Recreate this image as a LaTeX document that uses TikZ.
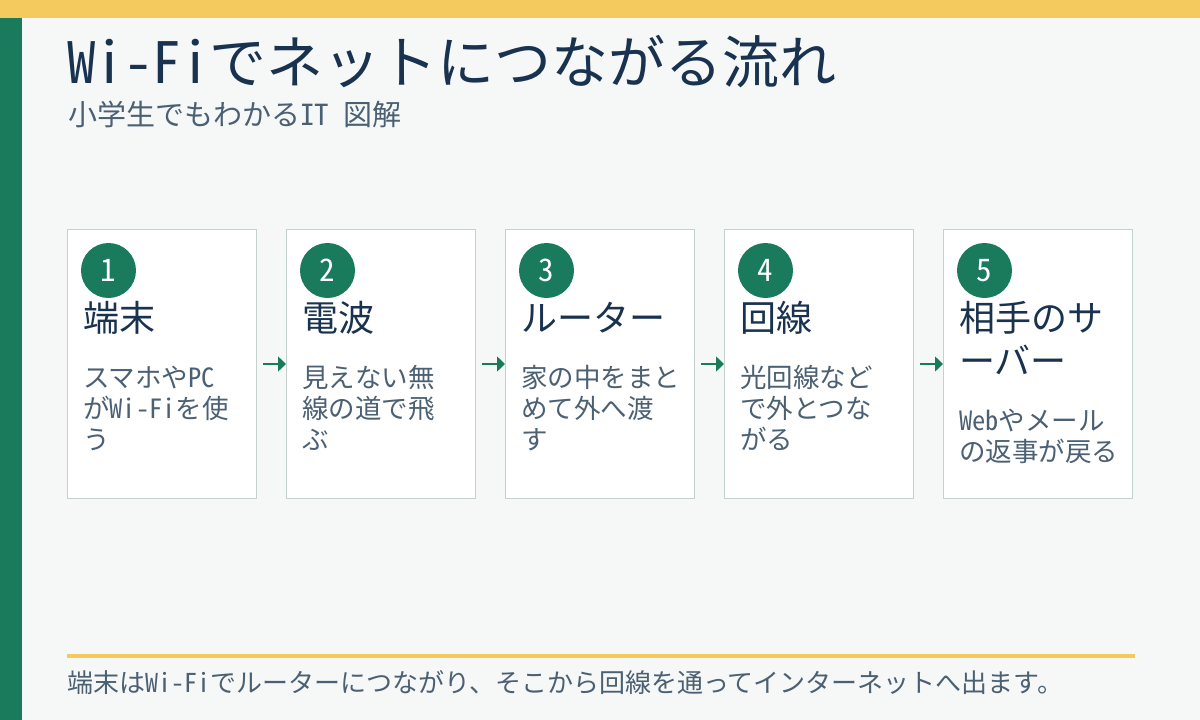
\documentclass[tikz,border=0pt]{standalone}
\usepackage{fontspec}
\setmainfont{Noto Sans CJK JP}[RawFeature=+hwid]
\usetikzlibrary{arrows.meta,positioning}

\begin{document}
\begin{tikzpicture}[x=1pt,y=-1pt,
	card/.style={draw=cardline,fill=white,line width=1pt,minimum width=189pt,minimum height=269pt,anchor=north west,inner sep=0pt},
	badge/.style={circle,fill=leaf,minimum size=55pt,inner sep=0pt,text=white,font=\fontsize{31}{31}\selectfont},
	head/.style={anchor=base west,inner sep=0pt,align=left,text=ink,font=\fontsize{36}{43}\selectfont},
	desc/.style={anchor=base west,inner sep=0pt,align=left,text=slate,font=\fontsize{26.5}{31}\selectfont},
	link/.style={draw=leaf,line width=1.5pt,-{Triangle[length=8pt,width=15pt]}}]
	\definecolor{paper}{HTML}{F6F8F7}
	\definecolor{sun}{HTML}{F4C95D}
	\definecolor{leaf}{HTML}{1A7A5C}
	\definecolor{ink}{HTML}{18324F}
	\definecolor{slate}{HTML}{4B6072}
	\definecolor{cardline}{HTML}{C3D3CC}
	\useasboundingbox (0,0) rectangle (1200,720);
	%% Frame ------
	\fill[paper] (0,0) rectangle (1200,720);
	\fill[sun] (0,0) rectangle (1200,18);
	\fill[leaf] (0,18) rectangle (22,720);
	\node[anchor=base west,inner sep=0pt,text=ink,font=\fontsize{57}{57}\selectfont] (title) at (67,83) {Wi-Fiでネットにつながる流れ};
	\node[anchor=base west,inner sep=0pt,text=slate,font=\fontsize{29}{29}\selectfont] (subtitle) at (68,125) {小学生でもわかるIT 図解};
	%% Cards ------
	\node[card] (c1) at (67,229) {};
	\node[card] (c2) at (286,229) {};
	\node[card] (c3) at (505,229) {};
	\node[card] (c4) at (724,229) {};
	\node[card] (c5) at (943,229) {};
	\node[badge] (n1) at (108.5,270.5) {1};
	\node[badge] (n2) at (327.5,270.5) {2};
	\node[badge] (n3) at (546.5,270.5) {3};
	\node[badge] (n4) at (765.5,270.5) {4};
	\node[badge] (n5) at (984.5,270.5) {5};
	% base anchor sits on the last line
	\node[head] (h1) at (83,331) {端末};
	\node[head] (h2) at (302,331) {電波};
	\node[head] (h3) at (521,331) {ルーター};
	\node[head] (h4) at (740,331) {回線};
	\node[head] (h5) at (959,374) {相手のサ\\ーバー};
	\node[desc] (d1) at (83,449) {スマホやPC\\がWi-Fiを使\\う};
	\node[desc] (d2) at (302,449) {見えない無\\線の道で飛\\ぶ};
	\node[desc] (d3) at (521,449) {家の中をまと\\めて外へ渡\\す};
	\node[desc] (d4) at (740,449) {光回線など\\で外とつな\\がる};
	\node[desc] (d5) at (959,461) {Webやメール\\の返事が戻る};
	%% Arrows ---------
	\draw[link] ([xshift=6pt]c1.east) -- (c2.west);
	\draw[link] ([xshift=6pt]c2.east) -- (c3.west);
	\draw[link] ([xshift=6pt]c3.east) -- (c4.west);
	\draw[link] ([xshift=6pt]c4.east) -- (c5.west);
	%% Footer ---------
	\coordinate (fl) at (67,656);
	\coordinate (fr) at (1135,656);
	\draw[sun,line width=4pt] (fl) -- (fr);
	\node[anchor=base west,inner sep=0pt,text=slate,font=\fontsize{26}{26}\selectfont] (note) at (67,692) {端末はWi-Fiでルーターにつながり、そこから回線を通ってインターネットへ出ます。};
\end{tikzpicture}
\end{document}
